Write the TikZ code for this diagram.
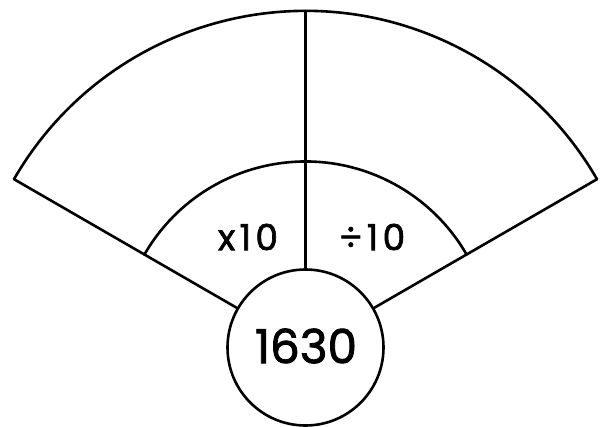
\documentclass[tikz,border=0pt]{standalone}
\usepackage{fontspec}
\setmainfont{Poppins}[FakeBold=1.8]
\usetikzlibrary{calc}
\begin{document}
\begin{tikzpicture}[x=1pt,y=1pt,
  edge/.style={line width=2.6pt,black,line cap=round,line join=round},
  hub/.style={circle,draw,line width=2.6pt,minimum size=156pt,inner sep=0pt},
  lbl/.style={font=\fontsize{36}{40}\selectfont\addfontfeature{LetterSpace=12}},
  biglbl/.style={font=\fontsize{47}{52}\selectfont}]
\useasboundingbox (0,0) rectangle (605,426);
\coordinate (C) at (305.5,78.5);
\node[hub] (c) at (C) {};
\node[biglbl] (num) at (306,80) {1630};
\coordinate (oL) at ($(C)+(150:336.6)$);
\coordinate (oR) at ($(C)+(30:336.6)$);
\coordinate (oT) at ($(C)+(90:336.6)$);
\draw[edge] (c.150) -- (oL);
\draw[edge] (c.30) -- (oR);
\draw[edge] (c.90) -- (oT);
\draw[edge] (oL) arc[start angle=150,end angle=30,radius=336.6];
\draw[edge] ($(C)+(150:186)$) arc[start angle=150,end angle=30,radius=186];
\node[lbl] (a) at (248,189) {x10};
\node[lbl] (b) at (372,189) {÷10};
\end{tikzpicture}
\end{document}
